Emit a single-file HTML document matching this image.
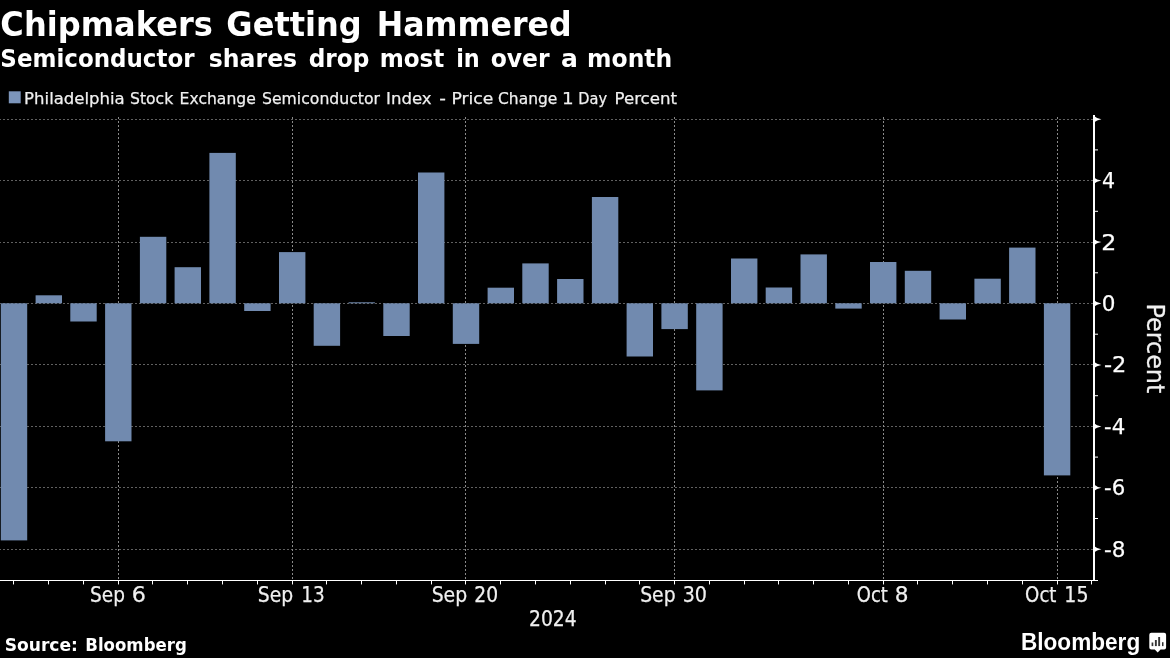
<!DOCTYPE html>
<html lang="en"><head><meta charset="utf-8"><title>Chipmakers Getting Hammered</title>
<style>html,body{margin:0;padding:0;background:#000;}body{width:1170px;height:658px;overflow:hidden;}svg{display:block;}text{font-family:"DejaVu Sans","Liberation Sans",sans-serif;fill:#fff;white-space:pre;}.b{font-weight:bold;}.t{fill:#f0f0f0;stroke:#f0f0f0;stroke-width:.25px;}</style>
</head><body>
<svg width="1170" height="658" viewBox="0 0 1170 658">
<rect x="0" y="0" width="1170" height="658" fill="#000"/>
<g stroke="#606060" stroke-width="1" stroke-dasharray="2 2" fill="none" shape-rendering="crispEdges">
<line x1="1093" y1="119.5" x2="0" y2="119.5"/>
<line x1="1093" y1="180.5" x2="0" y2="180.5"/>
<line x1="1093" y1="242.5" x2="0" y2="242.5"/>
<line x1="1093" y1="303.5" x2="0" y2="303.5"/>
<line x1="1093" y1="364.5" x2="0" y2="364.5"/>
<line x1="1093" y1="426.5" x2="0" y2="426.5"/>
<line x1="1093" y1="487.5" x2="0" y2="487.5"/>
<line x1="1093" y1="549.5" x2="0" y2="549.5"/>
</g>
<g stroke="#8a8a8a" stroke-width="1" stroke-dasharray="2 2" fill="none" shape-rendering="crispEdges">
<line x1="118.5" y1="579" x2="118.5" y2="115"/>
<line x1="292.5" y1="579" x2="292.5" y2="115"/>
<line x1="465.5" y1="579" x2="465.5" y2="115"/>
<line x1="674.5" y1="579" x2="674.5" y2="115"/>
<line x1="883.5" y1="579" x2="883.5" y2="115"/>
<line x1="1057.5" y1="579" x2="1057.5" y2="115"/>
</g>
<g fill="#718aaf">
<rect x="0.8" y="303.3" width="26.4" height="237.1"/>
<rect x="35.6" y="295.3" width="26.4" height="8.0"/>
<rect x="70.3" y="303.3" width="26.4" height="18.2"/>
<rect x="105.1" y="303.3" width="26.4" height="138.0"/>
<rect x="139.9" y="236.8" width="26.4" height="66.5"/>
<rect x="174.6" y="267.2" width="26.4" height="36.1"/>
<rect x="209.4" y="152.9" width="26.4" height="150.4"/>
<rect x="244.2" y="303.3" width="26.4" height="7.7"/>
<rect x="279.0" y="252.1" width="26.4" height="51.2"/>
<rect x="313.7" y="303.3" width="26.4" height="42.5"/>
<rect x="348.5" y="302.3" width="26.4" height="1.0"/>
<rect x="383.3" y="303.3" width="26.4" height="32.7"/>
<rect x="418.0" y="172.5" width="26.4" height="130.8"/>
<rect x="452.8" y="303.3" width="26.4" height="40.6"/>
<rect x="487.6" y="287.7" width="26.4" height="15.6"/>
<rect x="522.3" y="263.4" width="26.4" height="39.9"/>
<rect x="557.1" y="279.0" width="26.4" height="24.3"/>
<rect x="591.9" y="197.0" width="26.4" height="106.3"/>
<rect x="626.6" y="303.3" width="26.4" height="53.2"/>
<rect x="661.4" y="303.3" width="26.4" height="25.8"/>
<rect x="696.2" y="303.3" width="26.4" height="87.1"/>
<rect x="731.0" y="258.5" width="26.4" height="44.8"/>
<rect x="765.7" y="287.5" width="26.4" height="15.8"/>
<rect x="800.5" y="254.4" width="26.4" height="48.9"/>
<rect x="835.3" y="303.3" width="26.4" height="5.3"/>
<rect x="870.0" y="262.0" width="26.4" height="41.3"/>
<rect x="904.8" y="270.8" width="26.4" height="32.5"/>
<rect x="939.6" y="303.3" width="26.4" height="16.2"/>
<rect x="974.4" y="278.7" width="26.4" height="24.6"/>
<rect x="1009.1" y="247.6" width="26.4" height="55.7"/>
<rect x="1043.9" y="303.3" width="26.4" height="172.1"/>
</g>
<g fill="#fff" shape-rendering="crispEdges">
<rect x="0" y="580" width="1094" height="1"/>
<rect x="1093" y="115" width="2" height="466"/>
<rect x="13" y="581" width="1" height="3"/>
<rect x="48" y="581" width="1" height="3"/>
<rect x="83" y="581" width="1" height="3"/>
<rect x="118" y="581" width="1" height="3"/>
<rect x="152" y="581" width="1" height="3"/>
<rect x="187" y="581" width="1" height="3"/>
<rect x="222" y="581" width="1" height="3"/>
<rect x="257" y="581" width="1" height="3"/>
<rect x="292" y="581" width="1" height="3"/>
<rect x="326" y="581" width="1" height="3"/>
<rect x="361" y="581" width="1" height="3"/>
<rect x="396" y="581" width="1" height="3"/>
<rect x="431" y="581" width="1" height="3"/>
<rect x="465" y="581" width="1" height="3"/>
<rect x="500" y="581" width="1" height="3"/>
<rect x="535" y="581" width="1" height="3"/>
<rect x="570" y="581" width="1" height="3"/>
<rect x="605" y="581" width="1" height="3"/>
<rect x="639" y="581" width="1" height="3"/>
<rect x="674" y="581" width="1" height="3"/>
<rect x="709" y="581" width="1" height="3"/>
<rect x="744" y="581" width="1" height="3"/>
<rect x="778" y="581" width="1" height="3"/>
<rect x="813" y="581" width="1" height="3"/>
<rect x="848" y="581" width="1" height="3"/>
<rect x="883" y="581" width="1" height="3"/>
<rect x="917" y="581" width="1" height="3"/>
<rect x="952" y="581" width="1" height="3"/>
<rect x="987" y="581" width="1" height="3"/>
<rect x="1022" y="581" width="1" height="3"/>
<rect x="1057" y="581" width="1" height="3"/>
<rect x="1091" y="581" width="1" height="3"/>
</g>
<g fill="#fff">
<rect x="13" y="584" width="1" height="0.45"/>
<rect x="48" y="584" width="1" height="0.45"/>
<rect x="83" y="584" width="1" height="0.45"/>
<rect x="118" y="584" width="1" height="0.45"/>
<rect x="152" y="584" width="1" height="0.45"/>
<rect x="187" y="584" width="1" height="0.45"/>
<rect x="222" y="584" width="1" height="0.45"/>
<rect x="257" y="584" width="1" height="0.45"/>
<rect x="292" y="584" width="1" height="0.45"/>
<rect x="326" y="584" width="1" height="0.45"/>
<rect x="361" y="584" width="1" height="0.45"/>
<rect x="396" y="584" width="1" height="0.45"/>
<rect x="431" y="584" width="1" height="0.45"/>
<rect x="465" y="584" width="1" height="0.45"/>
<rect x="500" y="584" width="1" height="0.45"/>
<rect x="535" y="584" width="1" height="0.45"/>
<rect x="570" y="584" width="1" height="0.45"/>
<rect x="605" y="584" width="1" height="0.45"/>
<rect x="639" y="584" width="1" height="0.45"/>
<rect x="674" y="584" width="1" height="0.45"/>
<rect x="709" y="584" width="1" height="0.45"/>
<rect x="744" y="584" width="1" height="0.45"/>
<rect x="778" y="584" width="1" height="0.45"/>
<rect x="813" y="584" width="1" height="0.45"/>
<rect x="848" y="584" width="1" height="0.45"/>
<rect x="883" y="584" width="1" height="0.45"/>
<rect x="917" y="584" width="1" height="0.45"/>
<rect x="952" y="584" width="1" height="0.45"/>
<rect x="987" y="584" width="1" height="0.45"/>
<rect x="1022" y="584" width="1" height="0.45"/>
<rect x="1057" y="584" width="1" height="0.45"/>
<rect x="1091" y="584" width="1" height="0.45"/>
<rect x="1095" y="580" width="3" height="1"/>
<rect x="1095" y="149.4" width="3" height="1"/>
<rect x="1095" y="210.8" width="3" height="1"/>
<rect x="1095" y="272.3" width="3" height="1"/>
<rect x="1095" y="333.7" width="3" height="1"/>
<rect x="1095" y="395.2" width="3" height="1"/>
<rect x="1095" y="456.6" width="3" height="1"/>
<rect x="1095" y="518.0" width="3" height="1"/>
<path d="M1094 116.0 Q1096.5 118.4 1101.4 119.2 Q1096.5 120.0 1094 122.4 Z"/>
<path d="M1094 177.4 Q1096.5 179.8 1101.4 180.6 Q1096.5 181.4 1094 183.8 Z"/>
<path d="M1094 238.9 Q1096.5 241.3 1101.4 242.1 Q1096.5 242.9 1094 245.3 Z"/>
<path d="M1094 300.3 Q1096.5 302.7 1101.4 303.5 Q1096.5 304.3 1094 306.7 Z"/>
<path d="M1094 361.7 Q1096.5 364.1 1101.4 364.9 Q1096.5 365.7 1094 368.1 Z"/>
<path d="M1094 423.2 Q1096.5 425.6 1101.4 426.4 Q1096.5 427.2 1094 429.6 Z"/>
<path d="M1094 484.6 Q1096.5 487.0 1101.4 487.8 Q1096.5 488.6 1094 491.0 Z"/>
<path d="M1094 546.1 Q1096.5 548.5 1101.4 549.3 Q1096.5 550.1 1094 552.5 Z"/>
</g>
<g class="t" font-size="21">
<text x="1102.02" y="188.1" textLength="13.08" lengthAdjust="spacingAndGlyphs">4</text>
<text x="1101.31" y="249.6" textLength="15.09" lengthAdjust="spacingAndGlyphs">2</text>
<text x="1101.72" y="311.0" textLength="13.69" lengthAdjust="spacingAndGlyphs">0</text>
<text x="1103.93" y="372.4" textLength="22.43" lengthAdjust="spacingAndGlyphs">-2</text>
<text x="1103.99" y="433.9" textLength="21.23" lengthAdjust="spacingAndGlyphs">-4</text>
<text x="1103.99" y="495.3" textLength="21.23" lengthAdjust="spacingAndGlyphs">-6</text>
<text x="1103.97" y="556.8" textLength="21.52" lengthAdjust="spacingAndGlyphs">-8</text>
</g>
<text class="t" y="601.5" font-size="21" ><tspan x="90.00" textLength="34.97" lengthAdjust="spacingAndGlyphs">Sep</tspan> <tspan x="131.71" textLength="14.14" lengthAdjust="spacingAndGlyphs">6</tspan></text>
<text class="t" y="601.5" font-size="21" ><tspan x="257.78" textLength="35.40" lengthAdjust="spacingAndGlyphs">Sep</tspan> <tspan x="301.32" textLength="23.50" lengthAdjust="spacingAndGlyphs">13</tspan></text>
<text class="t" y="601.5" font-size="21" ><tspan x="431.68" textLength="35.50" lengthAdjust="spacingAndGlyphs">Sep</tspan> <tspan x="474.26" textLength="23.84" lengthAdjust="spacingAndGlyphs">20</tspan></text>
<text class="t" y="601.5" font-size="21" ><tspan x="640.18" textLength="35.40" lengthAdjust="spacingAndGlyphs">Sep</tspan> <tspan x="682.74" textLength="24.28" lengthAdjust="spacingAndGlyphs">30</tspan></text>
<text class="t" y="601.5" font-size="21" ><tspan x="856.83" textLength="31.05" lengthAdjust="spacingAndGlyphs">Oct</tspan> <tspan x="894.86" textLength="13.76" lengthAdjust="spacingAndGlyphs">8</tspan></text>
<text class="t" y="601.5" font-size="21" ><tspan x="1025.12" textLength="31.37" lengthAdjust="spacingAndGlyphs">Oct</tspan> <tspan x="1064.36" textLength="24.21" lengthAdjust="spacingAndGlyphs">15</tspan></text>
<text class="t" y="625.5" font-size="21" ><tspan x="528.96" textLength="47.71" lengthAdjust="spacingAndGlyphs">2024</tspan></text>
<text class="t" y="0.0" font-size="24.8" transform="translate(1146.5 0) rotate(90)"><tspan x="303.39" textLength="90.06" lengthAdjust="spacingAndGlyphs">Percent</tspan></text>
<text class="b" y="35.7" font-size="34.3" ><tspan x="0.36" textLength="212.45" lengthAdjust="spacingAndGlyphs">Chipmakers</tspan> <tspan x="226.37" textLength="135.38" lengthAdjust="spacingAndGlyphs">Getting</tspan> <tspan x="376.84" textLength="194.76" lengthAdjust="spacingAndGlyphs">Hammered</tspan></text>
<text class="b" y="67.0" font-size="24.6" ><tspan x="0.37" textLength="194.18" lengthAdjust="spacingAndGlyphs">Semiconductor</tspan> <tspan x="208.80" textLength="88.35" lengthAdjust="spacingAndGlyphs">shares</tspan> <tspan x="308.66" textLength="60.67" lengthAdjust="spacingAndGlyphs">drop</tspan> <tspan x="379.72" textLength="64.67" lengthAdjust="spacingAndGlyphs">most</tspan> <tspan x="456.18" textLength="23.59" lengthAdjust="spacingAndGlyphs">in</tspan> <tspan x="490.65" textLength="58.95" lengthAdjust="spacingAndGlyphs">over</tspan> <tspan x="560.98" textLength="16.91" lengthAdjust="spacingAndGlyphs">a</tspan> <tspan x="587.09" textLength="85.22" lengthAdjust="spacingAndGlyphs">month</tspan></text>
<rect x="8.8" y="91.3" width="11.9" height="12" fill="#7c95bb"/>
<text class="t" y="103.9" font-size="16.6" ><tspan x="24.11" textLength="100.65" lengthAdjust="spacingAndGlyphs">Philadelphia</tspan> <tspan x="130.06" textLength="43.11" lengthAdjust="spacingAndGlyphs">Stock</tspan> <tspan x="179.59" textLength="76.20" lengthAdjust="spacingAndGlyphs">Exchange</tspan> <tspan x="262.06" textLength="117.91" lengthAdjust="spacingAndGlyphs">Semiconductor</tspan> <tspan x="386.10" textLength="45.58" lengthAdjust="spacingAndGlyphs">Index</tspan> <tspan x="439.17" textLength="6.67" lengthAdjust="spacingAndGlyphs">-</tspan> <tspan x="451.44" textLength="41.98" lengthAdjust="spacingAndGlyphs">Price</tspan> <tspan x="498.07" textLength="59.26" lengthAdjust="spacingAndGlyphs">Change</tspan> <tspan x="562.07" textLength="11.66" lengthAdjust="spacingAndGlyphs">1</tspan> <tspan x="578.28" textLength="28.78" lengthAdjust="spacingAndGlyphs">Day</tspan> <tspan x="614.50" textLength="62.54" lengthAdjust="spacingAndGlyphs">Percent</tspan></text>
<text class="b" y="650.7" font-size="16.8" ><tspan x="4.73" textLength="73.20" lengthAdjust="spacingAndGlyphs">Source:</tspan> <tspan x="85.32" textLength="101.45" lengthAdjust="spacingAndGlyphs">Bloomberg</tspan></text>
<text class="b" y="649.7" font-size="23.4" style="font-family:'Liberation Sans',sans-serif"><tspan x="1020.95" textLength="119.25" lengthAdjust="spacingAndGlyphs">Bloomberg</tspan></text>
<g>
<path d="M1151.3 632.7 H1164.1 Q1166.1 632.7 1166.1 634.7 V647.6 Q1166.1 649.6 1164.1 649.6 H1160.6 L1157.7 652.6 L1154.8 649.6 H1151.3 Q1149.3 649.6 1149.3 647.6 V634.7 Q1149.3 632.7 1151.3 632.7 Z" fill="#fff"/>
<g fill="#333"><rect x="1151.6" y="642.5" width="1.7" height="3.6"/><rect x="1154.9" y="640" width="1.9" height="6.1"/><rect x="1158.2" y="637" width="1.9" height="9.1"/><rect x="1162" y="642.2" width="1.5" height="3.9"/></g>
</g>
</svg>
</body></html>
